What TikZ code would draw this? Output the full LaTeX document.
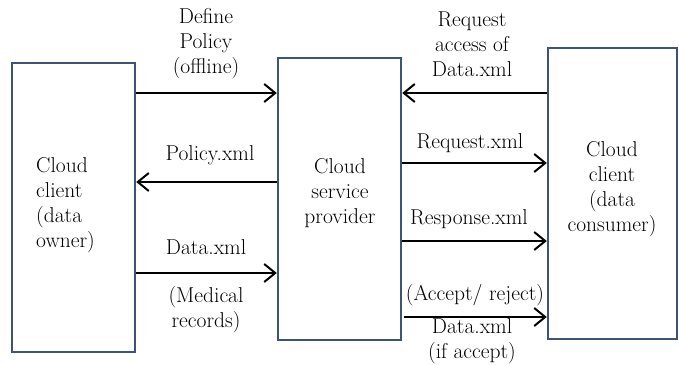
\documentclass[tikz,border=0pt]{standalone}
\usepackage{fontspec}
\usetikzlibrary{arrows.meta}
\definecolor{boxline}{HTML}{3E5473}
\tikzset{
  party/.style={draw=boxline, line width=2.4pt, minimum width=#1, inner sep=0pt},
  flow/.style={line width=2pt, -{Straight Barb[length=11pt,width=18pt,line width=2pt]}},
  lbl/.style={align=center, inner sep=0pt,
    font=\rmfamily\addfontfeatures{FakeBold=0.6}\fontsize{21.5}{25}\selectfont},
}
\begin{document}
\begin{tikzpicture}[x=1pt,y=-1pt]
\useasboundingbox (0,0) rectangle (679,364);
\node[party=123pt, minimum height=289pt] (owner) at (73.5,207.5) {};
\node[party=123pt, minimum height=282pt] (csp) at (339.5,199) {};
\node[party=129pt, minimum height=291pt] (cons) at (612.5,193.5) {};

\node[lbl, align=left, anchor=west] (ownertxt) at (36,205) {Cloud\\client\\(data\\owner)};
\node[lbl] (csptxt) at (340,193) {Cloud\\service\\provider};
\node[lbl] (constxt) at (612,189) {Cloud\\client\\(data\\consumer)};

% owner <-> provider
\draw[flow] (owner.east |- 0,93) -- (csp.west |- 0,93);
\draw[flow] (csp.west |- 0,182) -- (owner.east |- 0,182);
\draw[flow] (owner.east |- 0,273) -- (csp.west |- 0,273);
\node[lbl] (l1) at (206,44) {Define\\Policy\\(offline)};
\node[lbl] (l2) at (210,155) {Policy.xml};
\node[lbl] (l3) at (206,247) {Data.xml};
\node[lbl] (l4) at (206,310) {(Medical\\records)};

% provider <-> consumer
\draw[flow] (cons.west |- 0,93) -- (csp.east |- 0,93);
\draw[flow] (csp.east |- 0,163) -- (cons.west |- 0,163);
\draw[flow] (csp.east |- 0,241) -- (cons.west |- 0,241);
\draw[flow] ([xshift=2pt]csp.east |- 0,317) -- (cons.west |- 0,317);
\node[lbl] (r1) at (472,44) {Request\\access of\\Data.xml};
\node[lbl] (r2) at (470,143) {Request.xml};
\node[lbl] (r3) at (469,219) {Response.xml};
\node[lbl] (r4) at (475,295) {(Accept/ reject)};
\node[lbl] (r5) at (472,341) {Data.xml\\(if accept)};
\end{tikzpicture}
\end{document}
